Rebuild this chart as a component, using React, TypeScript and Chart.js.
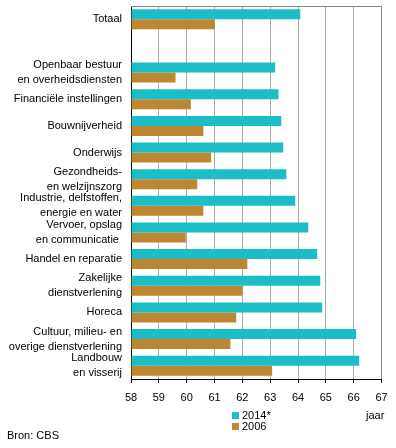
import React, { useEffect, useRef } from 'react';
import { Chart, registerables } from 'chart.js';
Chart.register(...registerables);

const categories: (string | string[])[] = [
  'Totaal',
  '',
  ['Openbaar bestuur', 'en overheidsdiensten'],
  'Financiële instellingen',
  'Bouwnijverheid',
  'Onderwijs',
  ['Gezondheids-', 'en welzijnszorg'],
  ['Industrie, delfstoffen,', 'energie en water'],
  ['Vervoer, opslag', 'en communicatie '],
  'Handel en reparatie',
  ['Zakelijke', 'dienstverlening'],
  'Horeca',
  ['Cultuur, milieu- en', 'overige dienstverlening'],
  ['Landbouw', 'en visserij'],
];

const values2014 = [64.08, null, 63.18, 63.3, 63.4, 63.47, 63.58, 63.9, 64.37, 64.69, 64.8, 64.87, 66.09, 66.2];
const values2006 = [61.0, null, 59.6, 60.15, 60.6, 60.88, 60.38, 60.6, 59.97, 62.18, 62.0, 61.78, 61.57, 63.07];

const seriesLabels = ['2014*', '2006'];
const seriesColors = ['#1dbdc6', '#bd8632'];
const xMin = 58;
const xMax = 67;
const unitLabel = 'jaar';
const sourceLabel = 'Bron: CBS';

const FONT = '"Liberation Sans", Arial, sans-serif';

const topBorder = {
  id: 'topBorder',
  afterDraw(chart: any) {
    const { ctx, chartArea } = chart;
    ctx.save();
    ctx.strokeStyle = '#888888';
    ctx.lineWidth = 1;
    ctx.beginPath();
    const y = Math.round(chartArea.top) + 0.5;
    ctx.moveTo(chartArea.left, y);
    ctx.lineTo(chartArea.right + 0.5, y);
    ctx.stroke();
    ctx.restore();
  },
};

export default function App() {
  const ref = useRef<HTMLCanvasElement>(null);

  useEffect(() => {
    if (!ref.current) return;
    const chart = new Chart(ref.current, {
      type: 'bar',
      data: {
        labels: categories as any,
        datasets: [
          { label: seriesLabels[0], data: values2014 as any, backgroundColor: seriesColors[0], base: xMin } as any,
          { label: seriesLabels[1], data: values2006 as any, backgroundColor: seriesColors[1], base: xMin } as any,
        ],
      },
      options: {
        indexAxis: 'y',
        responsive: false,
        animation: false,
        maintainAspectRatio: false,
        layout: { padding: { top: 6, right: 14.5, bottom: 37, left: 0 } },
        datasets: { bar: { categoryPercentage: 0.75, barPercentage: 1, borderWidth: 0 } },
        plugins: { legend: { display: false }, tooltip: { enabled: false } },
        scales: {
          x: {
            type: 'linear',
            min: xMin,
            max: xMax,
            ticks: { stepSize: 1, color: '#000', padding: 8, font: { family: FONT, size: 11 } },
            grid: {
              color: (c: any) => (c.tick && c.tick.value === xMin ? 'rgba(0,0,0,0)' : c.tick && c.tick.value === xMax ? '#888888' : '#aaaaaa'),
              tickColor: '#000',
              tickLength: 4,
              lineWidth: 1,
            },
            border: { color: '#000', width: 1 },
            afterFit: (scale: any) => {
              scale.height = 32;
              scale.paddingLeft = 0;
              scale.paddingRight = 0;
            },
          },
          y: {
            type: 'category',
            ticks: { color: '#000', padding: 9, autoSkip: false, font: { family: FONT, size: 11, lineHeight: 1.36 } },
            grid: { display: false, drawTicks: false },
            border: { color: '#000', width: 1 },
            afterFit: (scale: any) => {
              scale.width = 131;
              scale.paddingTop = 0;
              scale.paddingBottom = 0;
            },
          },
        },
      },
      plugins: [topBorder],
    });
    return () => chart.destroy();
  }, []);

  const textStyle: React.CSSProperties = {
    position: 'absolute',
    fontFamily: FONT,
    fontSize: 11,
    lineHeight: '13px',
    color: '#000',
    whiteSpace: 'nowrap',
  };

  return (
    <div style={{ position: 'absolute', left: 0, top: 0, width: 396, height: 448, background: '#fff' }}>
      <canvas ref={ref} width={396} height={448} style={{ display: 'block' }} />
      {seriesLabels.map((s, i) => (
        <React.Fragment key={s}>
          <div style={{ position: 'absolute', left: 232, top: 412 + i * 11, width: 7, height: 7, background: seriesColors[i] }} />
          <div style={{ ...textStyle, left: 242, top: 408.5 + i * 11 }}>{s}</div>
        </React.Fragment>
      ))}
      <div style={{ ...textStyle, left: 366, top: 408.5 }}>{unitLabel}</div>
      <div style={{ ...textStyle, left: 7, top: 428.5 }}>{sourceLabel}</div>
    </div>
  );
}
